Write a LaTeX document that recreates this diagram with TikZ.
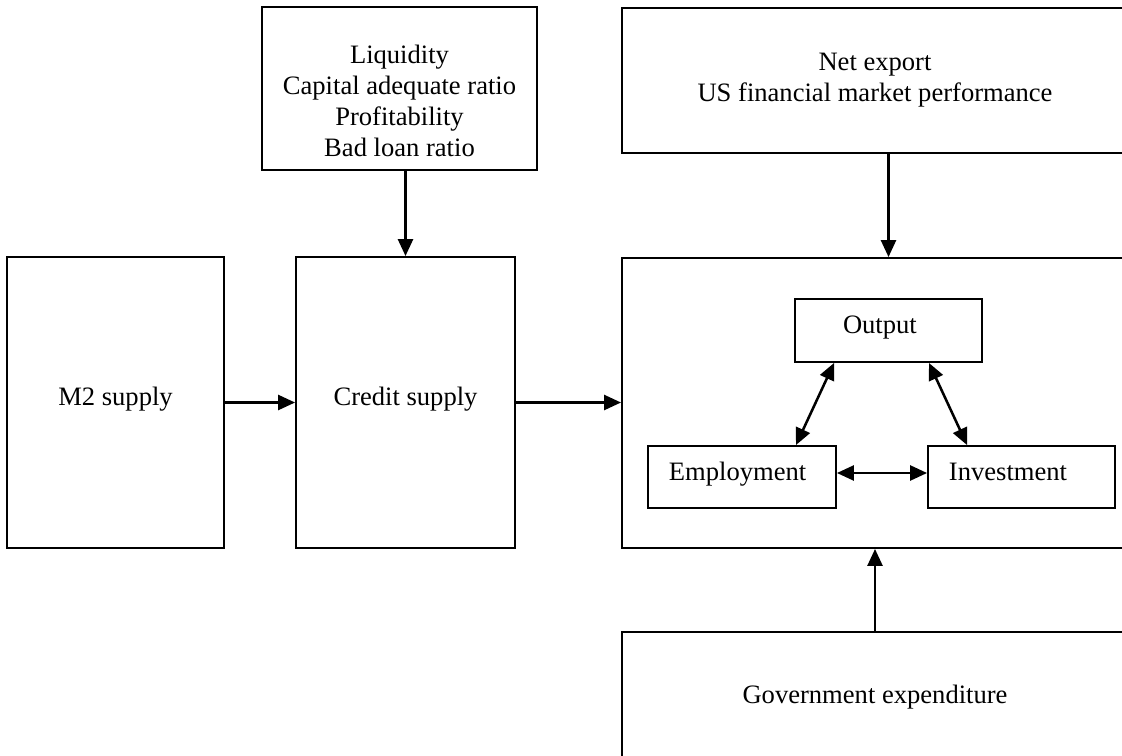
\documentclass[tikz,border=0pt]{standalone}
\usepackage{fontspec}
\setmainfont{Liberation Serif}
\usepackage{tikz}
\usetikzlibrary{calc,positioning,arrows.meta}

\tikzset{
	box/.style={draw, line width=1.3pt, align=center, inner sep=0pt,
		font=\fontsize{18.9}{22}\selectfont},
	oneline/.style={text height=0.7em, text depth=0.22em},
	leftbox/.style={box, oneline, align=left, inner xsep=0.525cm},
	txt/.style={align=center, inner sep=0pt, font=\fontsize{18.9}{22}\selectfont},
	arr/.style={line width=1.8pt, -{Triangle[length=12pt,width=10.6pt]}},
	biarr/.style={line width=1.8pt, {Triangle[length=12pt,width=10.6pt]}-{Triangle[length=12pt,width=10.6pt]}}
}

\begin{document}
\begin{tikzpicture}[x=0.025cm,y=-0.025cm]
	\useasboundingbox (0,0) rectangle (1122,755);

	% left column
	\node[box, minimum width=6.875cm, minimum height=4.075cm] (bank) at (399.5,88.5) {};
	\node[txt] (bank_text) at (399.5,101)
		{Liquidity\\Capital adequate ratio\\Profitability\\Bad loan ratio};
	\node[box, oneline, minimum width=5.425cm, minimum height=7.275cm] (mtwo) at (115.5,402.5) {M2 supply};
	\node[box, oneline, minimum width=5.475cm, minimum height=7.275cm] (credit) at (405.5,402.5) {Credit supply};

	% right column
	\node[box, minimum width=12.65cm, minimum height=3.625cm] (export) at (875,80.5)
		{Net export\\US financial market performance};
	\node[box, minimum width=12.65cm, minimum height=7.25cm] (economy) at (875,403) {};
	\node[box, oneline, minimum width=12.65cm, minimum height=3.4cm] (gov) at (875,700) {Government expenditure};

	% inner boxes
	\node[leftbox, inner xsep=1.2cm, text width=2.275cm, minimum height=1.575cm] (output) at (888.5,330.5) {Output};
	\node[leftbox, text width=3.65cm, minimum height=1.55cm] (employ) at (742,477) {Employment};
	\node[leftbox, text width=3.625cm, minimum height=1.55cm] (invest) at (1021.5,477) {Investment};

	\coordinate (out_left) at ($(output.south west)+(40,0)$);
	\coordinate (out_right) at ($(output.south east)+(-54,0)$);
	\coordinate (emp_top) at ($(employ.north east)+(-41,0)$);
	\coordinate (inv_top) at ($(invest.north west)+(40,0)$);

	% draw arrows
	\draw[arr] (credit.north |- bank.south) -- (credit.north);
	\draw[arr] (mtwo.east) -- (credit.west);
	\draw[arr] (credit.east) -- (credit.east -| economy.west);
	\draw[arr] (output.north |- export.south) -- (output.north |- economy.north);
	\draw[arr] (gov.north) -- (economy.south);

	% inner arrows
	\draw[biarr] (out_left) -- (emp_top);
	\draw[biarr] (out_right) -- (inv_top);
	\draw[biarr] ($(employ.east)+(0,-4)$) -- ($(invest.west)+(0,-4)$);
\end{tikzpicture}
\end{document}
